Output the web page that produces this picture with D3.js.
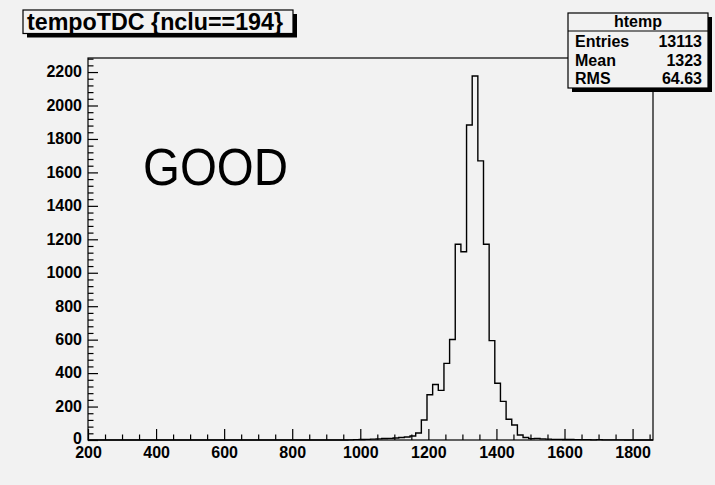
<!DOCTYPE html>
<html><head><meta charset="utf-8">
<script src="https://cdn.jsdelivr.net/npm/d3@7/dist/d3.min.js"></script>
<style>
html,body{margin:0;padding:0;background:#f2f2f2;}
svg{display:block;}
text{font-family:"Liberation Sans",Arial,Helvetica,sans-serif;}
</style></head>
<body>
<svg id="c" width="715" height="485"></svg>
<script>
// ---- data ----
const histRange = [200, 1860];          // histogram x range, 100 bins
const counts = [
  0,0,0,0,0,0,0,0,0,0,
  0,0,0,0,0,0,0,0,0,0,
  0,0,0,0,0,0,0,0,0,0,
  0,0,0,0,0,0,0,0,0,0,
  0,0,0,0,0,0,1,2,3,4,
  5,7,9,10,12,15,18,24,42,120,
  271,332,297,458,601,1170,1126,1883,2176,1669,
  1170,594,339,231,124,90,30,15,8,10,
  7,5,4,4,3,3,2,2,2,1,
  2,1,1,1,1,0,0,0,0,0
];
const xTicks = [200,400,600,800,1000,1200,1400,1600,1800];
const yTicks = [0,200,400,600,800,1000,1200,1400,1600,1800,2000,2200];
const yMax = 2284;
const titleText = "tempoTDC {nclu==194}";
const statsName = "htemp";
const statsLabels = ["Entries","Mean","RMS"];
const statsValues = ["13113","1323","64.63"];
const noteText = "GOOD";

// ---- layout ----
const svg = d3.select("#c");
const L = 88, R = 653, T = 58, B = 440;
svg.append("rect").attr("width",715).attr("height",485).attr("fill","#f2f2f2");

const x = d3.scaleLinear().domain(histRange).range([L, R]);
const y = d3.scaleLinear().domain([0, yMax]).range([B, T]);

const nb = counts.length;
const bw = (histRange[1]-histRange[0])/nb;

// histogram step path
const pts = [];
pts.push([histRange[0], 0]);
counts.forEach((c,i)=>{
  const x0 = histRange[0]+i*bw, x1 = x0+bw;
  pts.push([x0, c]); pts.push([x1, c]);
});
pts.push([histRange[1], 0]);
const line = d3.line().x(d=>x(d[0])).y(d=>y(d[1]));
svg.append("path").attr("d", line(pts)).attr("fill","none")
  .attr("stroke","#000").attr("stroke-width",1.4).attr("stroke-linejoin","miter");

// axes
const xMinor = d3.range(200, 1860, 50).filter(v=>v%200!==0);
const yMinor = d3.range(0, yMax, 40).filter(v=>v%200!==0);

const gx = svg.append("g").attr("transform",`translate(0,${B})`);
gx.call(d3.axisBottom(x).tickValues(xMinor).tickSizeInner(-5.5).tickSizeOuter(0).tickFormat(""));
const gx2 = svg.append("g").attr("transform",`translate(0,${B})`);
gx2.call(d3.axisBottom(x).tickValues(xTicks).tickSizeInner(-11).tickSizeOuter(0).tickPadding(4).tickFormat(d3.format("d")));
const gy = svg.append("g").attr("transform",`translate(${L},0)`);
gy.call(d3.axisLeft(y).tickValues(yMinor).tickSizeInner(-5.5).tickSizeOuter(0).tickFormat(""));
const gy2 = svg.append("g").attr("transform",`translate(${L},0)`);
gy2.call(d3.axisLeft(y).tickValues(yTicks).tickSizeInner(-10).tickSizeOuter(0).tickPadding(6).tickFormat(d3.format("d")));
[gx,gx2,gy,gy2].forEach(g=>{
  g.select(".domain").remove();
  g.selectAll("line").attr("stroke","#000").attr("stroke-width",1.2);
  g.selectAll("text").attr("fill","#000").style("font-size","16px").style("font-weight","bold")
   .style("font-family","'Liberation Sans',Arial,sans-serif");
});
gx2.selectAll("text").attr("dy","0.72em").attr("y",6.5);
gy2.selectAll("text").attr("dy","0.3em");
gy2.selectAll("text").filter(d=>d===0).attr("dy","0.2em");

// frame
svg.append("rect").attr("x",L).attr("y",T).attr("width",R-L).attr("height",B-T)
  .attr("fill","none").attr("stroke","#000").attr("stroke-width",1.2);

// GOOD label
svg.append("text").attr("x",143).attr("y",185).text(noteText)
  .style("font-size","51px").attr("fill","#000")
  .attr("textLength",145).attr("lengthAdjust","spacingAndGlyphs");

// title box
const tb = {x:23, y:10, w:270, h:23.5};
svg.append("rect").attr("x",tb.x+4).attr("y",tb.y+4).attr("width",tb.w).attr("height",tb.h).attr("fill","#000");
svg.append("rect").attr("x",tb.x).attr("y",tb.y).attr("width",tb.w).attr("height",tb.h)
  .attr("fill","#f2f2f2").attr("stroke","#000").attr("stroke-width",1.2);
const tt = svg.append("text").attr("x",27).attr("y",30).text(titleText)
  .style("font-size","22px").style("font-weight","bold").attr("fill","#000");
const tw = tt.node().getComputedTextLength();
tt.style("font-size", (22*256/tw).toFixed(2)+"px");

// stats box
const sb = {x:568, y:13, w:140, h:75};
svg.append("rect").attr("x",sb.x+4).attr("y",sb.y+4).attr("width",sb.w).attr("height",sb.h).attr("fill","#000");
svg.append("rect").attr("x",sb.x).attr("y",sb.y).attr("width",sb.w).attr("height",sb.h)
  .attr("fill","#f2f2f2").attr("stroke","#000").attr("stroke-width",1.2);
svg.append("line").attr("x1",sb.x).attr("x2",sb.x+sb.w).attr("y1",31).attr("y2",31)
  .attr("stroke","#000").attr("stroke-width",1.2);
svg.append("text").attr("x",sb.x+sb.w/2).attr("y",27).attr("text-anchor","middle")
  .text(statsName).style("font-size","16px").style("font-weight","bold");
const rowY = [47,65.5,84];
statsLabels.forEach((s,i)=>{
  svg.append("text").attr("x",575).attr("y",rowY[i]).text(s)
    .style("font-size","16px").style("font-weight","bold");
  svg.append("text").attr("x",702).attr("y",rowY[i]).attr("text-anchor","end").text(statsValues[i])
    .style("font-size","16px").style("font-weight","bold");
});
</script>
</body></html>
